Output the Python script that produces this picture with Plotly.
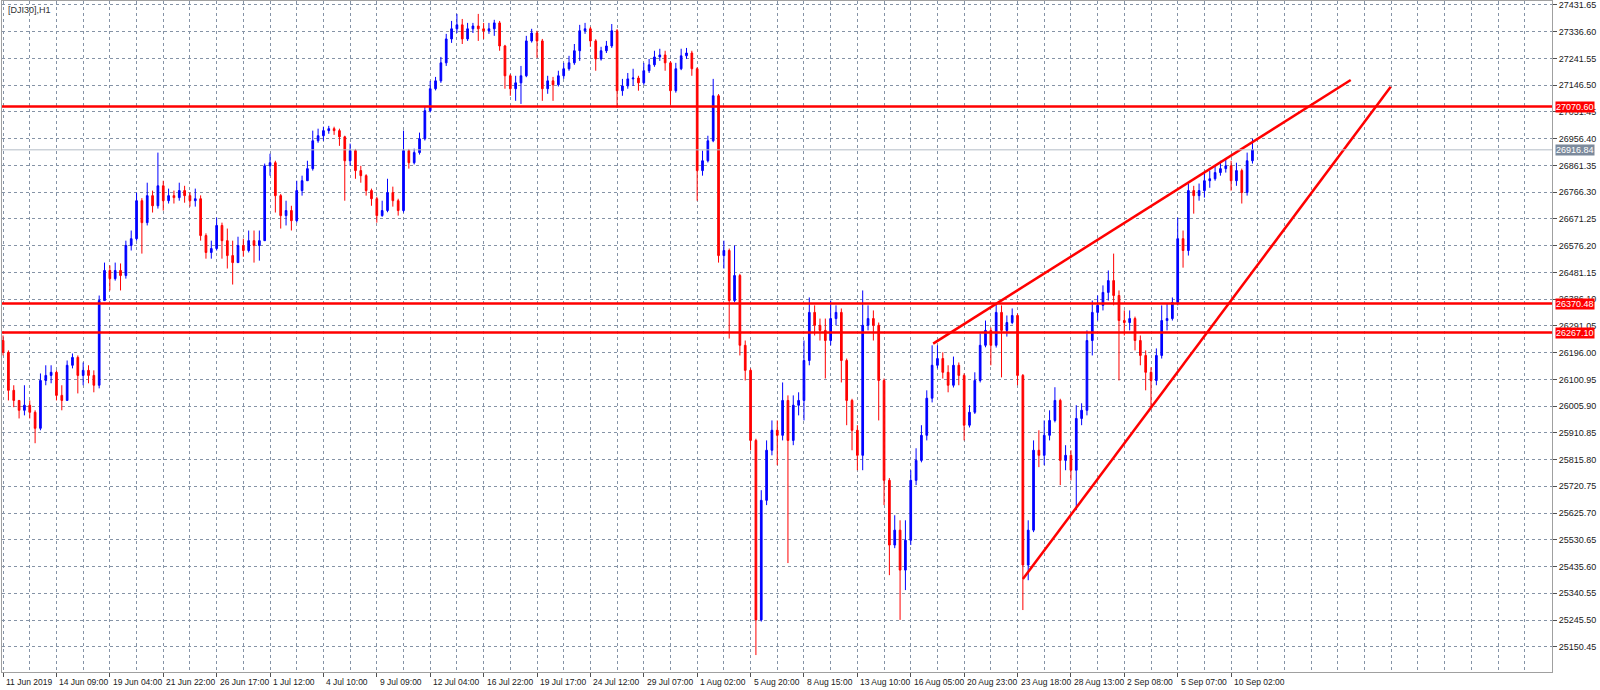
import plotly.graph_objects as go

# DJI30 H1, 11 Jun - 10 Sep 2019 (one candle ~ 6 hourly bars)
opens = [
    26239, 26197, 26062, 26026, 25991, 26009, 25984, 25927, 26097, 26115,
    26126, 26044, 26026, 26151, 26179, 26115, 26133, 26115, 26080, 26381,
    26488, 26459, 26488, 26470, 26577, 26601, 26736, 26658, 26754, 26718,
    26789, 26736, 26754, 26747, 26772, 26754, 26736, 26743, 26612, 26552,
    26566, 26648, 26594, 26541, 26516, 26577, 26559, 26594, 26577, 26594,
    26860, 26871, 26754, 26683, 26701, 26665, 26772, 26807, 26850, 26949,
    26967, 26985, 26992, 26985, 26963, 26878, 26914, 26843, 26825, 26772,
    26743, 26683, 26701, 26765, 26736, 26701, 26914, 26871, 26907, 26956,
    27056, 27134, 27162, 27226, 27311, 27347, 27361, 27311, 27347, 27357,
    27347, 27340, 27347, 27368, 27286, 27180, 27134, 27155, 27180, 27304,
    27332, 27304, 27134, 27162, 27148, 27180, 27205, 27226, 27269, 27340,
    27347, 27304, 27240, 27269, 27286, 27340, 27127, 27144, 27169, 27172,
    27155, 27198, 27219, 27247, 27254, 27226, 27127, 27205, 27251, 27261,
    27205, 26843, 26878, 26949, 27109, 26541, 26559, 26381, 26470, 26222,
    26133, 25884, 25246, 25671, 25849, 25920, 25902, 26026, 25884, 26009,
    26026, 26168, 26339, 26293, 26275, 26239, 26317, 26339, 26168, 26026,
    25920, 25831, 26293, 26317, 26293, 26097, 25742, 25512, 25565, 25423,
    25529, 25742, 25813, 25902, 26034, 26151, 26175, 26126, 26080, 26151,
    26115, 25938, 25984, 26097, 26222, 26275, 26222, 26339, 26275, 26303,
    26328, 26115, 25441, 25565, 25849, 25831, 25902, 25955, 26026, 25813,
    25831, 25778, 25962, 25991, 26239, 26339, 26364, 26410, 26452, 26399,
    26310, 26303, 26317, 26239, 26186, 26126, 26097, 26186, 26310, 26317,
    26374, 26601, 26559, 26772, 26754, 26772, 26807, 26814, 26836, 26850,
    26860, 26807, 26843, 26765, 26878,
]
highs = [
    26257, 26204, 26080, 26026, 26080, 26026, 25991, 26122, 26151, 26151,
    26133, 26080, 26168, 26193, 26186, 26161, 26151, 26133, 26399, 26516,
    26506, 26516, 26513, 26594, 26630, 26765, 26745, 26800, 26772, 26907,
    26807, 26779, 26772, 26800, 26789, 26765, 26779, 26755, 26620, 26594,
    26676, 26658, 26637, 26594, 26608, 26601, 26630, 26630, 26630, 26868,
    26903, 26878, 26760, 26736, 26718, 26807, 26825, 26878, 26985, 26992,
    26999, 27002, 26999, 26992, 26967, 26939, 26920, 26860, 26830, 26779,
    26750, 26736, 26814, 26786, 26743, 26985, 26920, 26921, 26978, 27073,
    27162, 27176, 27247, 27329, 27375, 27400, 27382, 27368, 27368, 27400,
    27368, 27368, 27379, 27375, 27290, 27186, 27180, 27215, 27322, 27347,
    27340, 27311, 27180, 27176, 27198, 27226, 27251, 27293, 27361, 27368,
    27354, 27310, 27283, 27304, 27364, 27346, 27169, 27190, 27205, 27180,
    27226, 27240, 27269, 27276, 27269, 27232, 27226, 27276, 27279, 27269,
    27210, 26914, 26967, 27169, 27115, 26594, 26566, 26577, 26476, 26239,
    26140, 25890, 25707, 25884, 25955, 25955, 26090, 26044, 26044, 26055,
    26239, 26392, 26364, 26317, 26317, 26381, 26364, 26353, 26175, 26032,
    25938, 26417, 26364, 26346, 26303, 26104, 25750, 25618, 25600, 25600,
    25778, 25856, 25938, 26062, 26222, 26222, 26197, 26151, 26182, 26161,
    26122, 26009, 26126, 26264, 26310, 26285, 26371, 26364, 26328, 26353,
    26335, 26120, 25600, 25884, 25920, 25955, 25991, 26073, 26032, 25867,
    25849, 26009, 26016, 26275, 26381, 26399, 26435, 26488, 26548, 26417,
    26346, 26346, 26324, 26257, 26204, 26144, 26211, 26364, 26371, 26392,
    26676, 26630, 26797, 26789, 26797, 26836, 26843, 26860, 26878, 26885,
    26878, 26871, 26850, 26907, 26956,
]
lows = [
    26186, 26026, 26002, 25962, 25973, 25962, 25874, 25920, 26080, 26087,
    26026, 25991, 26026, 26140, 26051, 26080, 26087, 26055, 26069, 26381,
    26417, 26452, 26417, 26459, 26559, 26594, 26548, 26648, 26694, 26708,
    26701, 26726, 26726, 26736, 26729, 26715, 26715, 26594, 26530, 26530,
    26559, 26530, 26495, 26438, 26516, 26537, 26552, 26516, 26523, 26594,
    26825, 26694, 26637, 26648, 26630, 26658, 26754, 26807, 26843, 26942,
    26949, 26974, 26970, 26931, 26736, 26860, 26814, 26800, 26754, 26718,
    26658, 26679, 26695, 26715, 26683, 26694, 26850, 26865, 26900, 26950,
    27050, 27128, 27155, 27215, 27297, 27332, 27293, 27304, 27332, 27304,
    27311, 27329, 27322, 27269, 27134, 27109, 27091, 27080, 27175, 27298,
    27244, 27091, 27116, 27091, 27142, 27169, 27198, 27219, 27233, 27329,
    27283, 27198, 27234, 27261, 27279, 27066, 27109, 27134, 27144, 27127,
    27148, 27190, 27212, 27233, 27198, 27077, 27120, 27200, 27240, 27180,
    26736, 26825, 26872, 26944, 26516, 26495, 26246, 26375, 26186, 26097,
    25849, 25121, 25240, 25654, 25831, 25796, 25884, 25448, 25867, 25973,
    25955, 26151, 26257, 26239, 26104, 26222, 26293, 26090, 25938, 25849,
    25778, 25778, 26275, 26239, 25955, 25654, 25405, 25501, 25246, 25352,
    25512, 25725, 25806, 25884, 26019, 26140, 26104, 26055, 26072, 26080,
    25884, 25930, 25978, 26090, 26215, 26151, 26214, 26108, 26253, 26297,
    26080, 25281, 25387, 25558, 25789, 25796, 25884, 25948, 25725, 25778,
    25742, 25636, 25938, 25973, 26186, 26310, 26346, 26381, 26364, 26097,
    26257, 26275, 26204, 26151, 26062, 26002, 26080, 26175, 26275, 26310,
    26364, 26498, 26541, 26690, 26736, 26747, 26782, 26807, 26825, 26836,
    26772, 26789, 26726, 26754, 26868,
]
closes = [
    26197, 26062, 26026, 25991, 26009, 25984, 25927, 26097, 26115, 26126,
    26044, 26026, 26151, 26179, 26115, 26133, 26115, 26080, 26381, 26488,
    26459, 26488, 26470, 26577, 26601, 26736, 26658, 26754, 26718, 26789,
    26736, 26754, 26747, 26772, 26754, 26736, 26743, 26612, 26552, 26566,
    26648, 26594, 26541, 26516, 26577, 26559, 26594, 26577, 26594, 26860,
    26871, 26754, 26683, 26701, 26665, 26772, 26807, 26850, 26949, 26967,
    26985, 26992, 26985, 26963, 26878, 26914, 26843, 26825, 26772, 26743,
    26683, 26701, 26765, 26736, 26701, 26914, 26871, 26907, 26956, 27056,
    27134, 27162, 27226, 27311, 27347, 27361, 27311, 27347, 27357, 27347,
    27340, 27347, 27368, 27286, 27180, 27134, 27155, 27180, 27304, 27332,
    27304, 27134, 27162, 27148, 27180, 27205, 27226, 27269, 27340, 27347,
    27304, 27240, 27269, 27286, 27340, 27127, 27144, 27169, 27172, 27155,
    27198, 27219, 27247, 27254, 27226, 27127, 27205, 27251, 27261, 27205,
    26843, 26878, 26949, 27109, 26541, 26559, 26381, 26470, 26222, 26133,
    25884, 25246, 25671, 25849, 25920, 25902, 26026, 25884, 26009, 26026,
    26168, 26339, 26293, 26275, 26239, 26317, 26339, 26168, 26026, 25920,
    25831, 26293, 26317, 26293, 26097, 25742, 25512, 25565, 25423, 25529,
    25742, 25813, 25902, 26034, 26151, 26175, 26126, 26080, 26151, 26115,
    25938, 25984, 26097, 26222, 26275, 26222, 26339, 26275, 26303, 26328,
    26115, 25441, 25565, 25849, 25831, 25902, 25955, 26026, 25813, 25831,
    25778, 25962, 25991, 26239, 26339, 26364, 26410, 26452, 26399, 26310,
    26303, 26317, 26239, 26186, 26126, 26097, 26186, 26310, 26317, 26374,
    26601, 26559, 26772, 26754, 26772, 26807, 26814, 26836, 26850, 26860,
    26807, 26843, 26765, 26878, 26917,
]

# date labels every 10 candles
date_labels = [
    "11 Jun 2019", "14 Jun 09:00", "19 Jun 04:00", "21 Jun 22:00", "26 Jun 17:00",
    "1 Jul 12:00", "4 Jul 10:00", "9 Jul 09:00", "12 Jul 04:00", "16 Jul 22:00",
    "19 Jul 17:00", "24 Jul 12:00", "29 Jul 07:00", "1 Aug 02:00", "5 Aug 20:00",
    "8 Aug 15:00", "13 Aug 10:00", "16 Aug 05:00", "20 Aug 23:00", "23 Aug 18:00",
    "28 Aug 13:00", "2 Sep 08:00", "5 Sep 07:00", "10 Sep 02:00",
]
date_pos = [10 * k for k in range(len(date_labels))]

price_ticks = [
    27431.65, 27336.60, 27241.55, 27146.50, 27051.45, 26956.40, 26861.35,
    26766.30, 26671.25, 26576.20, 26481.15, 26386.10, 26291.05, 26196.00,
    26100.95, 26005.90, 25910.85, 25815.80, 25720.75, 25625.70, 25530.65,
    25435.60, 25340.55, 25245.50, 25150.45,
]

# horizontal levels drawn on the chart
levels = [27070.60, 26370.48, 26267.10]
bid = 26916.84

# trend lines: (candle index, price) start / end
trend_x = [[174.2, 252.4], [191.0, 259.9]]
trend_y = [[26228, 27165], [25391, 27141]]

x = list(range(len(closes)))

fig = go.Figure()

fig.add_trace(go.Candlestick(
    x=x, open=opens, high=highs, low=lows, close=closes,
    increasing=dict(line=dict(color="#0000ff", width=1), fillcolor="#0000ff"),
    decreasing=dict(line=dict(color="#ff0000", width=1), fillcolor="#ff0000"),
    whiskerwidth=0,
    hoverinfo="skip",
    showlegend=False,
))

for tx, ty in zip(trend_x, trend_y):
    fig.add_trace(go.Scatter(
        x=tx, y=ty, mode="lines",
        line=dict(color="#ff0000", width=2.5),
        hoverinfo="skip", showlegend=False,
    ))

# 水平线 + 右侧价格标签
for lv in levels:
    fig.add_hline(y=lv, line=dict(color="#ff0000", width=2.5))
    fig.add_annotation(
        x=1, xref="paper", y=lv, yref="y", xanchor="left", yanchor="middle",
        xshift=3, text="%.2f" % lv, showarrow=False,
        font=dict(family="Liberation Sans", size=9, color="white"),
        bgcolor="#ff0000", borderpad=0,
    )

fig.add_hline(y=bid, line=dict(color="#b4bcc6", width=1))
fig.add_annotation(
    x=1, xref="paper", y=bid, yref="y", xanchor="left", yanchor="middle",
    xshift=3, text="%.2f" % bid, showarrow=False,
    font=dict(family="Liberation Sans", size=9, color="white"),
    bgcolor="#7c8a9c", borderpad=0,
)

# date labels start at their tick, MT4 style
for pos, lab in zip(date_pos, date_labels):
    fig.add_annotation(
        x=pos, xref="x", y=0, yref="paper", xanchor="left", yanchor="top",
        xshift=1, yshift=-3, text=lab, showarrow=False,
        font=dict(family="Liberation Sans", size=8.5, color="#202020"),
    )

fig.add_annotation(
    x=0, xref="paper", y=1, yref="paper", xanchor="left", yanchor="top",
    xshift=4, yshift=-2, text="[DJI30],H1", showarrow=False,
    font=dict(family="Liberation Sans", size=9, color="#303030"),
)

grid = dict(gridcolor="#8593a6", gridwidth=1, griddash="3px,3px")

fig.update_xaxes(
    range=[-0.2, 290.1],
    tickvals=date_pos, ticktext=[""] * len(date_pos),
    ticks="outside", ticklen=4, tickcolor="#505050",
    showgrid=True, **grid,
    minor=dict(dtick=5, tick0=0, showgrid=True, gridcolor="#8593a6",
               griddash="3px,3px", ticks=""),
    showline=True, linecolor="#a0a0a0", linewidth=1, mirror=True,
    rangeslider=dict(visible=False), zeroline=False, fixedrange=True,
)
fig.update_yaxes(
    side="right", range=[25060.8, 27445.85],
    tickvals=price_ticks, ticktext=["%.2f" % v for v in price_ticks],
    ticks="outside", ticklen=4, tickcolor="#505050",
    tickfont=dict(family="Liberation Sans", size=9, color="#202020"),
    showgrid=True, **grid,
    showline=True, linecolor="#a0a0a0", linewidth=1, mirror=True,
    zeroline=False, fixedrange=True,
)

fig.update_layout(
    width=1600, height=690,
    margin=dict(l=2, r=48, t=1, b=18),
    paper_bgcolor="white", plot_bgcolor="white",
    boxgap=0.55,
)

# no page margin, so the 1600x690 figure fills the window exactly
fig.write_html(
    "out.html",
    config={"displayModeBar": False},
    post_script="document.body.style.margin='0';document.body.style.overflow='hidden';",
)
